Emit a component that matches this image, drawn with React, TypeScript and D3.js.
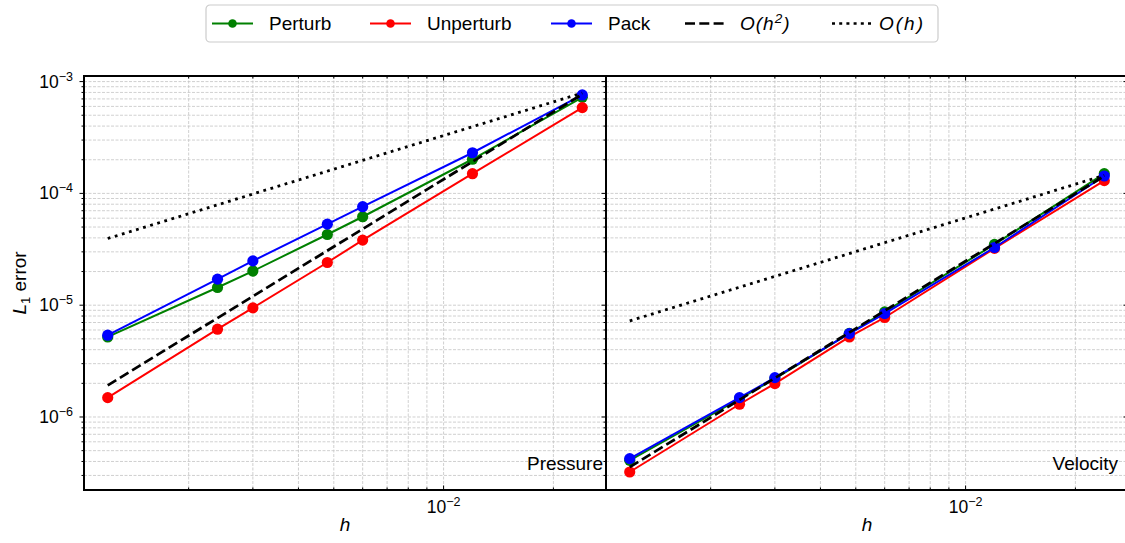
import React from 'react'
import * as d3 from 'd3'

// grid spacing h and L1 errors
const hValues = [0.0012, 0.0024, 0.003, 0.0048, 0.006, 0.012, 0.024]
const pressurePerturb = [5.2e-6, 1.44e-5, 2.02e-5, 4.29e-5, 6.18e-5, 2.02e-4, 7.24e-4]
const pressureUnperturb = [1.49e-6, 6.1e-6, 9.46e-6, 2.41e-5, 3.82e-5, 1.5e-4, 5.85e-4]
const pressurePack = [5.39e-6, 1.71e-5, 2.49e-5, 5.31e-5, 7.6e-5, 2.31e-4, 7.6e-4]
const velocityPerturb = [4.1e-7, 1.45e-6, 2.2e-6, 5.6e-6, 8.7e-6, 3.5e-5, 1.5e-4]
const velocityUnperturb = [3.22e-7, 1.3e-6, 1.99e-6, 5.2e-6, 7.76e-6, 3.22e-5, 1.3e-4]
const velocityPack = [4.24e-7, 1.49e-6, 2.25e-6, 5.57e-6, 8.41e-6, 3.28e-5, 1.43e-4]

// reference slopes, end values only
const refH = [0.0012, 0.024]
const pressureOrder2 = [1.92e-6, 7.7e-4]
const pressureOrder1 = [3.95e-5, 7.9e-4]
const velocityOrder2 = [3.56e-7, 1.43e-4]
const velocityOrder1 = [7.24e-6, 1.45e-4]

const seriesNames = ['Perturb', 'Unperturb', 'Pack']
const seriesColors = ['#008000', '#ff0000', '#0000ff']
const panelNames = ['Pressure', 'Velocity']

const font = '"Liberation Sans", Arial, Helvetica, sans-serif'

const top = 76
const bottom = 490
const panelW = 522
const panelX = [84, 606]
const yDomain = [Math.pow(10, -6.653), Math.pow(10, -2.95)]

const panels = [
  { name: panelNames[0], series: [pressurePerturb, pressureUnperturb, pressurePack], o2: pressureOrder2, o1: pressureOrder1, labelX: 603 },
  { name: panelNames[1], series: [velocityPerturb, velocityUnperturb, velocityPack], o2: velocityOrder2, o1: velocityOrder1, labelX: 1118 },
]

function Sup({ base, exp, ...rest }: any) {
  return (
    <text {...rest}>
      {base}
      <tspan fontSize={12.5} dy={-7}>{exp}</tspan>
    </text>
  )
}

function App() {
  const hExt = d3.extent(hValues) as [number, number]
  const lo = Math.log10(hExt[0])
  const hi = Math.log10(hExt[1])
  const pad = (hi - lo) * 0.05
  const y = d3.scaleLog().domain(yDomain).range([bottom, top])
  const yTicks = y.ticks()
  const isMajor = (v: number) => Math.abs(Math.log10(v) - Math.round(Math.log10(v))) < 1e-6

  const gridStyle = { stroke: '#c4c4c4', strokeWidth: 0.8, strokeDasharray: '3 1.5' }

  const legendItems = [
    { x: 212, label: seriesNames[0], color: seriesColors[0], dash: null, marker: true },
    { x: 370, label: seriesNames[1], color: seriesColors[1], dash: null, marker: true },
    { x: 551, label: seriesNames[2], color: seriesColors[2], dash: null, marker: true },
    { x: 685, label: 'O(h2)', color: '#000', dash: '10 4.3', marker: false },
    { x: 832, label: 'O(h)', color: '#000', dash: '3 4.2', marker: false },
  ]

  return (
    <svg width={1125} height={543} style={{ display: 'block', position: 'absolute', left: 0, top: 0, background: '#fff' }} fontFamily={font}>
      {panels.map((p, pi) => {
        const x0 = panelX[pi]
        const x = d3.scaleLog()
          .domain([Math.pow(10, lo - pad), Math.pow(10, hi + pad)])
          .range([x0, x0 + panelW])
        const xTicks = x.ticks()
        const line = d3.line<[number, number]>().x(d => x(d[0])).y(d => y(d[1]))
        return (
          <g key={p.name}>
            <defs>
              <clipPath id={`clip${pi}`}>
                <rect x={x0} y={top} width={panelW} height={bottom - top} />
              </clipPath>
            </defs>
            {/* grid */}
            <g clipPath={`url(#clip${pi})`}>
              {yTicks.map((t, i) => (
                <line key={'gy' + i} x1={x0} x2={x0 + panelW} y1={y(t)} y2={y(t)} {...gridStyle} />
              ))}
              {xTicks.map((t, i) => (
                <line key={'gx' + i} x1={x(t)} x2={x(t)} y1={top} y2={bottom} {...gridStyle} />
              ))}
            </g>
            <g clipPath={`url(#clip${pi})`}>
              {p.series.map((vals, si) => {
                const pts = hValues.map((h, k) => [h, vals[k]] as [number, number])
                return (
                  <g key={si}>
                    <path d={line(pts) || ''} fill="none" stroke={seriesColors[si]} strokeWidth={2} />
                    {pts.map((d, k) => (
                      <circle key={k} cx={x(d[0])} cy={y(d[1])} r={5.6} fill={seriesColors[si]} />
                    ))}
                  </g>
                )
              })}
              <path d={line(refH.map((h, k) => [h, p.o2[k]] as [number, number])) || ''} fill="none" stroke="#000" strokeWidth={2.7} strokeDasharray="10 4.3" />
              <path d={line(refH.map((h, k) => [h, p.o1[k]] as [number, number])) || ''} fill="none" stroke="#000" strokeWidth={2.8} strokeDasharray="2.8 4.6" />
            </g>
            {/* ticks */}
            {xTicks.map((t, i) => {
              const len = isMajor(t) ? 4.5 : 2.5
              return (
                <g key={'tx' + i} stroke="#000" strokeWidth={1}>
                  <line x1={x(t)} x2={x(t)} y1={bottom} y2={bottom - len} />
                  <line x1={x(t)} x2={x(t)} y1={top} y2={top + len} />
                </g>
              )
            })}
            {yTicks.map((t, i) => {
              const len = isMajor(t) ? 4.5 : 2.5
              return (
                <g key={'ty' + i} stroke="#000" strokeWidth={1}>
                  {pi === 0 ? <line x1={x0} x2={x0 - len} y1={y(t)} y2={y(t)} /> : null}
                  <line x1={x0 + panelW} x2={x0 + panelW - len} y1={y(t)} y2={y(t)} />
                </g>
              )
            })}
            {xTicks.filter(isMajor).map((t, i) => (
              <Sup key={'lx' + i} x={x(t)} y={513} textAnchor="middle" fontSize={17.5} base="10" exp={'\u2212' + Math.round(-Math.log10(t))} />
            ))}
            <text x={x0 + panelW / 2} y={531} textAnchor="middle" fontSize={19} fontStyle="italic">h</text>
            <text x={p.labelX} y={470} textAnchor="end" fontSize={19}>{p.name}</text>
            <rect x={x0} y={top} width={panelW} height={bottom - top} fill="none" stroke="#000" strokeWidth={2} />
          </g>
        )
      })}

      {/* y tick labels */}
      {yTicks.filter(isMajor).map((t, i) => (
        <Sup key={'ly' + i} x={73} y={y(t) + 6} textAnchor="end" fontSize={17.5} base="10" exp={'\u2212' + Math.round(-Math.log10(t))} />
      ))}
      <text transform={`translate(26,${(top + bottom) / 2}) rotate(-90)`} textAnchor="middle" fontSize={19}>
        <tspan fontStyle="italic">L</tspan>
        <tspan fontSize={13} dy={4}>1</tspan>
        <tspan dy={-4}> error</tspan>
      </text>

      {/* legend */}
      <rect x={206} y={5} width={732} height={37} rx={4} fill="#fff" stroke="#cccccc" strokeWidth={1.2} />
      {legendItems.map((it) => (
        <g key={it.label}>
          <line x1={it.x} x2={it.x + 41} y1={23.5} y2={23.5} stroke={it.color} strokeWidth={it.marker ? 2 : 2.7} strokeDasharray={it.dash || undefined} />
          {it.marker ? <circle cx={it.x + 20.5} cy={23.5} r={4.3} fill={it.color} /> : null}
          {it.label === 'O(h2)' ? (
            <text x={it.x + 55} y={30} fontSize={19} fontStyle="italic" letterSpacing={1}>O(h<tspan fontSize={13.5} dy={-7}>2</tspan><tspan dy={7}>)</tspan></text>
          ) : it.label === 'O(h)' ? (
            <text x={it.x + 47} y={30} fontSize={19} fontStyle="italic" letterSpacing={2}>O(h)</text>
          ) : (
            <text x={it.x + 57} y={30} fontSize={19}>{it.label}</text>
          )}
        </g>
      ))}
    </svg>
  )
}

export default App
